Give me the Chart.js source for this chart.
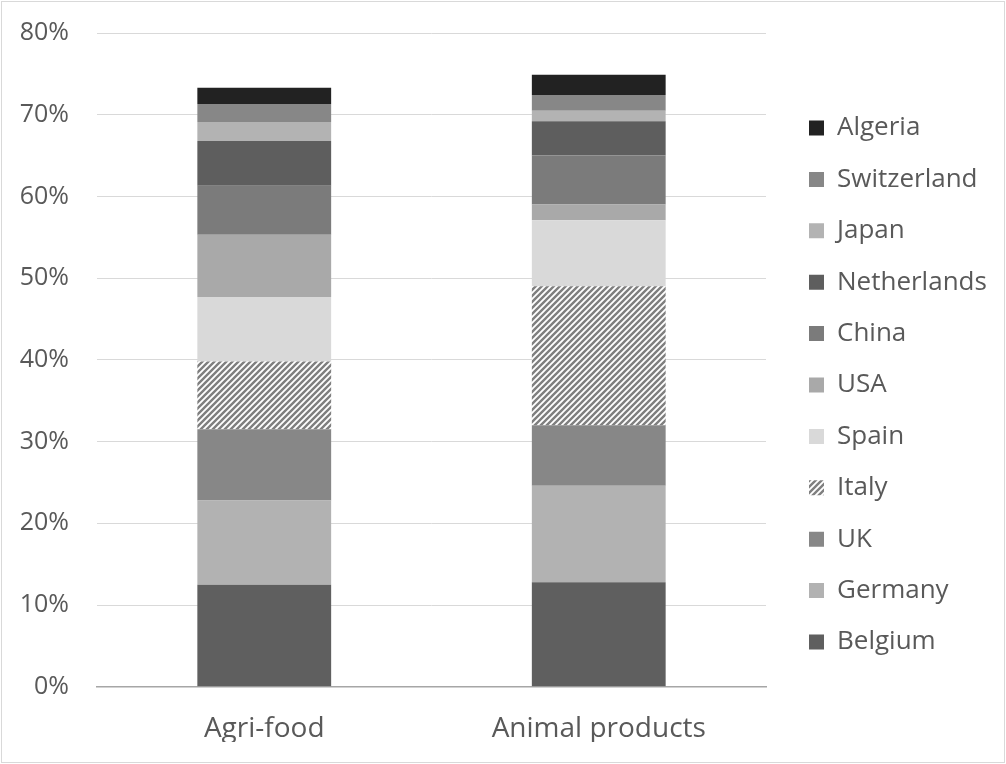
<!DOCTYPE html>
<html>
<head>
<meta charset="utf-8">
<script src="https://cdn.jsdelivr.net/npm/chart.js@4"></script>
<style>
  html, body { margin: 0; padding: 0; background: #fff; }
  #wrap { width: 1006px; height: 764px; position: relative; }
</style>
</head>
<body>
<div id="wrap"><canvas id="chart"></canvas></div>
<script>
// categories and series (percent share), bottom to top of each stack
const categories = ['Agri-food', 'Animal products'];
const countries = ['Belgium', 'Germany', 'UK', 'Italy', 'Spain', 'USA', 'China', 'Netherlands', 'Japan', 'Switzerland', 'Algeria'];
const belgium     = [12.5, 12.8];
const germany     = [10.3, 11.8];
const uk          = [8.7, 7.4];
const italy       = [8.3, 17.0];
const spain       = [7.9, 8.1];
const usa         = [7.6, 1.9];
const china       = [6.0, 6.0];
const netherlands = [5.5, 4.2];
const japan       = [2.3, 1.3];
const switzerland = [2.2, 1.9];
const algeria     = [2.0, 2.5];
const yTicks = [0, 10, 20, 30, 40, 50, 60, 70, 80];

const seriesValues = [belgium, germany, uk, italy, spain, usa, china, netherlands, japan, switzerland, algeria];

// hatched fill used for Italy (wide upward diagonal)
function makeHatch() {
  const s = 6;
  const c = document.createElement('canvas');
  c.width = s; c.height = s;
  const g = c.getContext('2d');
  g.fillStyle = '#ffffff';
  g.fillRect(0, 0, s, s);
  g.strokeStyle = '#7f7f7f';
  g.lineWidth = 2.4;
  g.beginPath();
  g.moveTo(-1, 1); g.lineTo(1, -1);
  g.moveTo(0, s); g.lineTo(s, 0);
  g.moveTo(s - 1, s + 1); g.lineTo(s + 1, s - 1);
  g.stroke();
  return g.createPattern(c, 'repeat');
}

const fills = ['#5f5f5f', '#b2b2b2', '#878787', makeHatch(), '#d9d9d9', '#a9a9a9', '#7b7b7b', '#5e5e5e', '#b3b3b3', '#878787', '#222222'];

const FONT = "'Open Sans', 'Noto Sans', sans-serif";
const TEXT = '#595959';
const LEGEND_PAD = 25.4;
const LEGEND_GAP = 43 - LEGEND_PAD;
const LEGEND_WIDTH = 240;

// white background + thin outer frame
const frame = {
  id: 'frame',
  beforeDraw(chart) {
    const ctx = chart.ctx;
    ctx.save();
    ctx.fillStyle = '#fff';
    ctx.fillRect(0, 0, chart.width, chart.height);
    ctx.strokeStyle = '#d9d9d9';
    ctx.lineWidth = 1;
    ctx.strokeRect(1.5, 1.5, chart.width - 3, chart.height - 3);
    ctx.restore();
  }
};

// fixed legend width, some room between the plot and the legend,
// and centre the legend on the canvas height
const legendGap = {
  id: 'legendGap',
  beforeLayout(chart) {
    const lg = chart.legend;
    if (lg && !lg._gapPatched) {
      const fit = lg.fit;
      lg.fit = function () {
        fit.call(this);
        this.width = LEGEND_WIDTH;
      };
      lg._gapPatched = true;
    }
  },
  afterLayout(chart) {
    const lg = chart.legend;
    if (!lg) return;
    lg.left += LEGEND_GAP;
    lg.top = 6;
    lg.bottom = chart.height;
  }
};

Chart.defaults.font.family = FONT;
Chart.defaults.color = TEXT;

new Chart(document.getElementById('chart'), {
  type: 'bar',
  data: {
    labels: categories,
    datasets: countries.map((name, i) => ({
      label: name,
      data: seriesValues[i],
      backgroundColor: fills[i],
      borderWidth: 0,
      categoryPercentage: 1,
      barPercentage: 0.4
    }))
  },
  options: {
    responsive: true,
    maintainAspectRatio: false,
    animation: false,
    layout: { padding: { top: 33, left: 10, right: 0, bottom: 22 } },
    plugins: {
      tooltip: { enabled: false },
      legend: {
        position: 'right',
        reverse: true,
        labels: {
          font: { size: 26, family: FONT },
          color: TEXT,
          boxWidth: 15,
          boxHeight: 15,
          padding: LEGEND_PAD
        }
      }
    },
    scales: {
      x: {
        stacked: true,
        afterFit(scale) { scale.height = 55.2; },
        grid: { display: false, drawTicks: false },
        border: { display: true, color: '#a6a6a6', width: 1.5 },
        ticks: { font: { size: 28, family: FONT }, color: TEXT, padding: 25 }
      },
      y: {
        stacked: true,
        min: 0,
        max: 80,
        afterBuildTicks(scale) {
          scale.ticks = yTicks.map(v => ({ value: v }));
        },
        afterFit(scale) { scale.width = 87; },
        // invisible tick marks give the gap between labels and plot
        grid: { color: '#d9d9d9', lineWidth: 1, drawTicks: true, tickLength: 28, tickColor: 'rgba(0,0,0,0)' },
        border: { display: false },
        ticks: {
          font: { size: 25, family: FONT },
          color: TEXT,
          padding: 0,
          callback: v => v + '%'
        }
      }
    }
  },
  plugins: [frame, legendGap]
});
</script>
</body>
</html>
